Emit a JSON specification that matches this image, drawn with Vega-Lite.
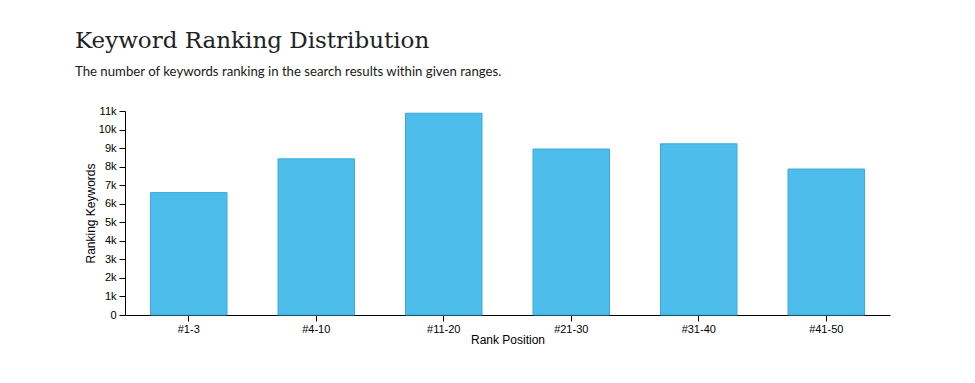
{
  "$schema": "https://vega.github.io/schema/vega-lite/v6.json",
  "autosize": {"type": "none"},
  "width": 765,
  "height": 204,
  "padding": {"left": 125, "top": 111, "right": 85, "bottom": 68},
  "background": "white",
  "title": {
    "text": "Keyword Ranking Distribution",
    "subtitle": "The number of keywords ranking in the search results within given ranges.",
    "anchor": "start",
    "frame": "group",
    "dx": -50,
    "offset": 27,
    "font": "DejaVu Serif",
    "fontSize": 23,
    "fontWeight": "normal",
    "color": "#222222",
    "subtitleFont": "Lato",
    "subtitleFontSize": 13.2,
    "subtitleColor": "#1a1a1a",
    "subtitlePadding": 13
  },
  "data": {
    "values": [
      {"rank": "#1-3", "keywords": 6600},
      {"rank": "#4-10", "keywords": 8420},
      {"rank": "#11-20", "keywords": 10880},
      {"rank": "#21-30", "keywords": 8950},
      {"rank": "#31-40", "keywords": 9230},
      {"rank": "#41-50", "keywords": 7870}
    ]
  },
  "mark": {"type": "bar", "fill": "#4dbdeb", "stroke": "#3aaadc", "strokeWidth": 1},
  "encoding": {
    "x": {
      "field": "rank",
      "type": "nominal",
      "sort": null,
      "scale": {"paddingInner": 0.4, "paddingOuter": 0.2},
      "axis": {
        "title": "Rank Position",
        "labelAngle": 0,
        "labelPadding": 2,
        "titlePadding": 0
      }
    },
    "y": {
      "field": "keywords",
      "type": "quantitative",
      "scale": {"domain": [0, 11000]},
      "axis": {
        "title": "Ranking Keywords",
        "values": [0, 1000, 2000, 3000, 4000, 5000, 6000, 7000, 8000, 9000, 10000, 11000],
        "labelExpr": "datum.value == 0 ? '0' : format(datum.value / 1000, 'd') + 'k'",
        "labelOverlap": false,
        "labelFlush": false,
        "grid": false,
        "titlePadding": 1
      }
    }
  },
  "config": {
    "view": {"stroke": null},
    "axis": {
      "labelFont": "Liberation Sans",
      "labelFontSize": 11,
      "labelColor": "#000000",
      "titleFont": "Liberation Sans",
      "titleFontSize": 12,
      "titleFontWeight": "normal",
      "titleColor": "#000000",
      "domainColor": "#000000",
      "tickColor": "#000000",
      "tickSize": 6,
      "labelPadding": 3,
      "grid": false
    }
  }
}
